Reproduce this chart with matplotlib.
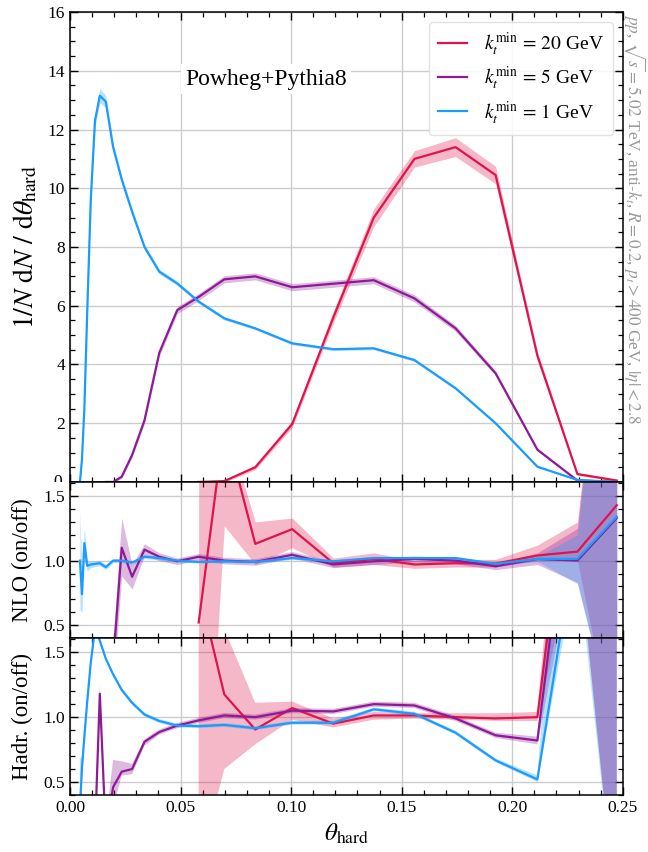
import numpy as np
import matplotlib
matplotlib.use("Agg")
import matplotlib.pyplot as plt
from matplotlib.ticker import MultipleLocator, FuncFormatter
from matplotlib.transforms import Bbox

nan = np.nan
plt.rcParams['font.family'] = ['serif']
plt.rcParams['font.serif'] = ['Liberation Serif', 'DejaVu Serif']
plt.rcParams['mathtext.fontset'] = 'stix'

# ---------------- data ----------------
theta = [0.0045, 0.0054, 0.0065, 0.0078, 0.0094, 0.0113, 0.0135, 0.0162, 0.0195, 0.0234,
         0.0281, 0.0337, 0.0404, 0.0485, 0.0582, 0.0698, 0.0838, 0.1005, 0.1191, 0.1374,
         0.1558, 0.1744, 0.1925, 0.2114, 0.2295, 0.2473]

labels = [r"$k_t^{\mathrm{min}} \,=\, 20$ GeV", r"$k_t^{\mathrm{min}} \,=\, 5$ GeV",
          r"$k_t^{\mathrm{min}} \,=\, 1$ GeV"]

# main panel: 1/N dN/dtheta
red_main = [nan, nan, nan, nan, nan, nan, nan, nan, nan, nan, nan, nan, nan, nan,
            0.0, 0.03, 0.5, 1.97, 5.6, 9.0, 11.0, 11.4, 10.45, 4.3, 0.27, 0.05]
red_main_err = [nan, nan, nan, nan, nan, nan, nan, nan, nan, nan, nan, nan, nan, nan,
                0.02, 0.04, 0.08, 0.12, 0.2, 0.3, 0.28, 0.32, 0.3, 0.15, 0.05, 0.02]
purple_main = [nan, nan, nan, nan, nan, nan, nan, 0.0, 0.0, 0.18, 0.92, 2.1, 4.4, 5.85,
               6.3, 6.9, 7.0, 6.63, 6.75, 6.87, 6.25, 5.23, 3.7, 1.1, 0.05, 0.0]
purple_main_err = [nan, nan, nan, nan, nan, nan, nan, 0.02, 0.03, 0.05, 0.08, 0.1, 0.12, 0.12,
                   0.12, 0.12, 0.12, 0.12, 0.12, 0.12, 0.12, 0.1, 0.08, 0.05, 0.02, 0.01]
blue_main = [0.0, 0.75, 2.5, 5.8, 9.6, 12.3, 13.15, 12.95, 11.4, 10.3, 9.2, 8.0, 7.16, 6.76,
             6.14, 5.57, 5.23, 4.72, 4.52, 4.55, 4.15, 3.19, 2.0, 0.52, 0.07, 0.0]
blue_main_err = [0.05, 0.1, 0.15, 0.2, 0.2, 0.2, 0.25, 0.2, 0.15, 0.12, 0.1, 0.1, 0.08, 0.07,
                 0.06, 0.06, 0.05, 0.05, 0.05, 0.05, 0.05, 0.05, 0.04, 0.03, 0.02, 0.01]

# NLO (on/off) ratio
red_nlo = [nan, nan, nan, nan, nan, nan, nan, nan, nan, nan, nan, nan, nan, nan,
           0.52, 2.05, 1.13, 1.244, 0.98, 1.013, 0.97, 0.98, 0.977, 1.04, 1.07, 1.43]
red_nlo_lo = [nan, nan, nan, nan, nan, nan, nan, nan, nan, nan, nan, nan, nan, nan,
              -2.0, 1.27, 0.97, 1.10, 0.95, 0.97, 0.94, 0.95, 0.95, 1.0, 1.0, -0.5]
red_nlo_hi = [nan, nan, nan, nan, nan, nan, nan, nan, nan, nan, nan, nan, nan, nan,
              3.0, 2.1, 1.30, 1.33, 1.02, 1.06, 1.0, 1.01, 1.01, 1.12, 1.3, 4.0]
purple_nlo = [nan, nan, nan, nan, nan, nan, nan, nan, 0.2, 1.10, 0.875, 1.085, 1.03, 0.995,
              1.03, 1.0, 0.99, 1.045, 0.97, 0.995, 1.013, 1.0, 0.956, 1.013, 1.0, 1.33]
purple_nlo_lo = [nan, nan, nan, nan, nan, nan, nan, nan, 0.0, 0.88, 0.78, 1.04, 1.0, 0.97,
                 1.005, 0.975, 0.965, 1.02, 0.945, 0.97, 0.99, 0.975, 0.93, 0.97, 0.83, -0.4]
purple_nlo_hi = [nan, nan, nan, nan, nan, nan, nan, nan, 0.4, 1.33, 0.97, 1.13, 1.06, 1.02,
                 1.055, 1.025, 1.015, 1.07, 0.995, 1.02, 1.035, 1.025, 0.98, 1.06, 1.25, 4.1]
blue_nlo = [1.0, 0.74, 1.136, 0.96, 0.97, 0.975, 0.98, 0.95, 1.0, 1.0, 0.985, 1.03, 1.02, 1.0,
            0.99, 0.995, 0.99, 1.02, 0.995, 1.02, 1.02, 1.02, 0.975, 1.013, 1.013, 1.34]
blue_nlo_lo = [0.62, 0.6, 1.0, 0.92, 0.945, 0.955, 0.96, 0.93, 0.985, 0.985, 0.97, 1.015, 1.005, 0.99,
               0.98, 0.985, 0.98, 1.01, 0.985, 1.01, 1.01, 1.01, 0.965, 0.995, 0.82, -0.4]
blue_nlo_hi = [1.38, 0.9, 1.25, 1.0, 0.995, 0.995, 1.0, 0.97, 1.015, 1.015, 1.0, 1.045, 1.035, 1.01,
               1.0, 1.005, 1.0, 1.03, 1.005, 1.03, 1.03, 1.03, 0.985, 1.03, 1.2, 4.0]

# Hadronisation (on/off) ratio
red_had = [nan, nan, nan, nan, nan, nan, nan, nan, nan, nan, nan, nan, nan, nan,
           2.0, 1.175, 0.905, 1.07, 0.95, 1.013, 1.013, 1.0, 0.99, 1.0, 3.5, 3.0]
red_had_lo = [nan, nan, nan, nan, nan, nan, nan, nan, nan, nan, nan, nan, nan, nan,
              -0.15, 0.6, 0.79, 0.98, 0.92, 0.98, 0.99, 0.98, 0.97, 0.97, 2.37, -0.58]
red_had_hi = [nan, nan, nan, nan, nan, nan, nan, nan, nan, nan, nan, nan, nan, nan,
              4.0, 1.68, 1.11, 1.12, 0.99, 1.04, 1.03, 1.03, 1.03, 1.04, 4.5, 6.0]
purple_had = [nan, nan, nan, nan, nan, 0.1, 1.18, 0.1, 0.46, 0.58, 0.60, 0.81, 0.885, 0.935,
              0.975, 1.013, 1.0, 1.05, 1.044, 1.10, 1.09, 0.99, 0.86, 0.82, 3.3, 3.0]
purple_had_lo = [nan, nan, nan, nan, nan, 0.0, 1.1, 0.0, 0.3, 0.55, 0.56, 0.78, 0.865, 0.915,
                 0.955, 0.993, 0.98, 1.03, 1.024, 1.08, 1.07, 0.97, 0.84, 0.79, 2.37, -0.58]
purple_had_hi = [nan, nan, nan, nan, nan, 0.2, 1.25, 0.2, 0.67, 0.66, 0.64, 0.83, 0.905, 0.955,
                 0.995, 1.033, 1.02, 1.07, 1.064, 1.12, 1.11, 1.01, 0.88, 0.85, 4.5, 6.0]
blue_had = [0.3, 0.6, 0.85, 1.12, 1.42, 1.68, 1.59, 1.45, 1.33, 1.21, 1.11, 1.02, 0.97, 0.935,
            0.93, 0.94, 0.915, 0.957, 0.957, 1.06, 1.026, 0.88, 0.667, 0.52, 2.45, 3.0]
blue_had_lo = [0.0, 0.5, 0.82, 1.1, 1.4, 1.66, 1.57, 1.435, 1.315, 1.195, 1.095, 1.005, 0.955, 0.92,
               0.915, 0.925, 0.9, 0.942, 0.942, 1.045, 1.011, 0.865, 0.652, 0.5, 2.2, -0.58]
blue_had_hi = [0.68, 0.7, 0.88, 1.14, 1.44, 1.7, 1.61, 1.465, 1.345, 1.225, 1.125, 1.035, 0.985, 0.95,
               0.945, 0.955, 0.93, 0.972, 0.972, 1.075, 1.041, 0.895, 0.682, 0.55, 4.5, 6.0]

# ---------------- styling ----------------
c_red = '#e0144c'
c_purple = '#8e1a96'
c_blue = '#1a9bff'
band_alpha = 0.3
lw = 1.6

fig = plt.figure(figsize=(6.48, 8.52), dpi=100)
left, width = 0.108, 0.853
ax0 = fig.add_axes([left, 0.4343, width, 0.9859 - 0.4343])
ax1 = fig.add_axes([left, 0.2512, width, 0.4343 - 0.2512], sharex=ax0)
ax2 = fig.add_axes([left, 0.0669, width, 0.2512 - 0.0669], sharex=ax0)

x = np.array(theta)

def band_sym(ax, y, e, c):
    y = np.array(y); e = np.array(e)
    ax.fill_between(x, y - e, y + e, color=c, alpha=band_alpha, lw=0)

def band(ax, lo, hi, c):
    ax.fill_between(x, np.array(lo), np.array(hi), color=c, alpha=band_alpha, lw=0)

# main
band_sym(ax0, red_main, red_main_err, c_red)
band_sym(ax0, purple_main, purple_main_err, c_purple)
band_sym(ax0, blue_main, blue_main_err, c_blue)
ax0.plot(x, red_main, color=c_red, lw=lw, label=labels[0])
ax0.plot(x, purple_main, color=c_purple, lw=lw, label=labels[1])
ax0.plot(x, blue_main, color=c_blue, lw=lw, label=labels[2])

# NLO
band(ax1, red_nlo_lo, red_nlo_hi, c_red)
band(ax1, purple_nlo_lo, purple_nlo_hi, c_purple)
band(ax1, blue_nlo_lo, blue_nlo_hi, c_blue)
ax1.plot(x, red_nlo, color=c_red, lw=lw)
ax1.plot(x, purple_nlo, color=c_purple, lw=lw)
ax1.plot(x, blue_nlo, color=c_blue, lw=lw)

# Hadr
band(ax2, red_had_lo, red_had_hi, c_red)
band(ax2, purple_had_lo, purple_had_hi, c_purple)
band(ax2, blue_had_lo, blue_had_hi, c_blue)
ax2.plot(x, red_had, color=c_red, lw=lw)
ax2.plot(x, purple_had, color=c_purple, lw=lw)
ax2.plot(x, blue_had, color=c_blue, lw=lw)

ax0.set_ylim(0, 16)
ax0.yaxis.set_major_locator(MultipleLocator(2))
ax0.yaxis.set_minor_locator(MultipleLocator(0.5))
# the "0" label is drawn separately below (partly hidden by the ratio panel)
ax0.yaxis.set_major_formatter(FuncFormatter(lambda v, p: "" if abs(v) < 1e-9 else f"{v:g}"))
for ax in (ax1, ax2):
    ax.set_ylim(0.4, 1.61)
    ax.yaxis.set_minor_locator(MultipleLocator(0.1))
    ax.set_yticks([0.5, 1.0, 1.5])
    ax.set_yticklabels(['0.5', '1.0', '1.5'])

ax0.set_xlim(0, 0.25)
ax0.xaxis.set_minor_locator(MultipleLocator(0.01))

for ax in (ax0, ax1, ax2):
    ax.grid(True, which='major', color='#cccccc', lw=1.0)
    ax.set_axisbelow(True)
    ax.tick_params(which='both', direction='in', top=True, right=True, labelsize=12.5)
    ax.tick_params(which='major', length=6, width=1)
    ax.tick_params(which='minor', length=3.5, width=0.9)
    for s in ax.spines.values():
        s.set_linewidth(1.1)

ax2.set_xticks([0.0, 0.05, 0.10, 0.15, 0.20, 0.25])
ax2.set_xticklabels(['0.00', '0.05', '0.10', '0.15', '0.20', '0.25'])
plt.setp(ax0.get_xticklabels(), visible=False)
plt.setp(ax1.get_xticklabels(), visible=False)

ax0.set_ylabel(r"$1/N\ \mathrm{d}N\ /\ \mathrm{d}\theta_{\mathrm{hard}}$", fontsize=20)
ax1.set_ylabel("NLO (on/off)", fontsize=16.5)
ax2.set_ylabel("Hadr. (on/off)", fontsize=16.5)
ax0.yaxis.set_label_coords(-0.056, 0.5)
ax1.yaxis.set_label_coords(-0.066, 0.5)
ax2.yaxis.set_label_coords(-0.066, 0.5)
ax2.set_xlabel(r"$\theta_{\mathrm{hard}}$", fontsize=18, labelpad=4)

leg = ax0.legend(loc='upper right', fontsize=14, frameon=True, fancybox=True,
                 framealpha=0.85, edgecolor='#dddddd', handlelength=1.5,
                 borderpad=0.45, labelspacing=0.35, handletextpad=0.9)
leg.get_frame().set_linewidth(1.0)

ax0.text(0.355, 0.857, "Powheg+Pythia8", transform=ax0.transAxes, fontsize=17,
         ha='center', va='center',
         bbox=dict(facecolor='white', edgecolor='none', pad=3))

fig.text(0.9605, 0.984,
         r"$pp$, $\sqrt{s}=5.02$ TeV, anti-$k_t$, $R=0.2$, $p_t>400$ GeV, $|\eta|<2.8$",
         rotation=270, va='top', ha='left', color='#999999', fontsize=12.4)

# "0" tick label of the main panel, clipped at the panel's lower edge
y0_fig = 0.4343
zero = fig.text(left - 0.012, y0_fig, "0", ha='right', va='center', fontsize=12.5)
zero.set_clip_box(Bbox([[0, y0_fig * 852 - 0.5], [648, 852]]))
zero.set_clip_on(True)

fig.savefig("out.png", dpi=100)
